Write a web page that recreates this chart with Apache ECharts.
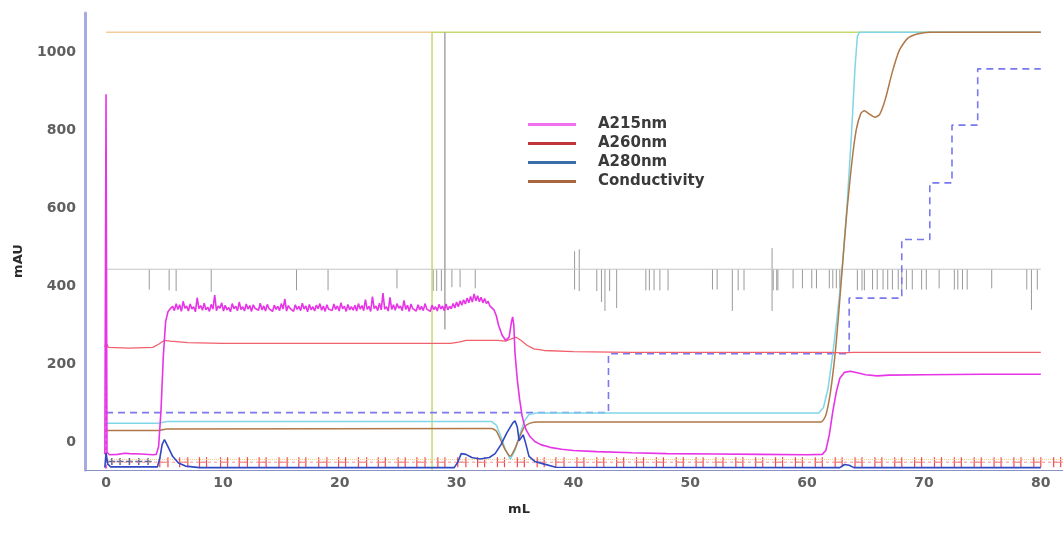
<!DOCTYPE html>
<html>
<head>
<meta charset="utf-8">
<title>Chromatogram</title>
<script src="https://cdn.jsdelivr.net/npm/echarts@6/dist/echarts.min.js"></script>
<style>
  html, body { margin: 0; padding: 0; background: #ffffff; }
  #chart { width: 1063px; height: 558px; }
</style>
</head>
<body>
<div id="chart"></div>
<script>
// Axis tick labels
const volumeTicks = [0, 10, 20, 30, 40, 50, 60, 70, 80];
const mauTicks = [0, 200, 400, 600, 800, 1000];

// Detector traces, [mL, mAU]
const a215 = [
  [-0.1,-30],[0,892],[0.08,-25],[0.3,-31],[1,-30],[1.6,-27],[2,-28],[3,-29],[4,-31],[4.3,-30],
  [4.5,-10],[4.7,80],[4.9,220],[5.1,310],[5.3,335],[5.5,343],
  [5.7,349],[5.85,338],[6.0,356],[6.15,341],[6.3,353],[6.45,336],[6.6,362],[6.75,344],[6.9,350],[7.05,337],
  [7.2,355],[7.35,342],[7.5,348],[7.65,335],[7.8,371],[7.95,343],[8.1,351],[8.25,339],[8.4,357],[8.55,340],
  [8.7,347],[8.85,336],[9.0,354],[9.15,342],[9.3,378],[9.45,338],[9.6,350],[9.75,344],[9.9,358],[10.05,337],
  [10.2,352],[10.35,340],[10.5,346],[10.65,335],[10.8,356],[10.95,343],[11.1,349],[11.25,338],[11.4,360],[11.55,341],
  [11.7,348],[11.85,337],[12.0,355],[12.15,342],[12.3,351],[12.45,336],[12.6,353],[12.75,344],[12.9,347],[13.05,339],
  [13.2,357],[13.35,340],[13.5,350],[13.65,337],[13.8,354],[13.95,343],[14.1,348],[14.25,336],[14.4,352],[14.55,341],
  [14.7,349],[14.85,338],[15.0,356],[15.15,342],[15.3,368],[15.45,337],[15.6,351],[15.75,344],[15.9,347],[16.05,336],
  [16.2,353],[16.35,341],[16.5,349],[16.65,338],[16.8,357],[16.95,342],[17.1,350],[17.25,335],[17.4,354],[17.55,340],
  [17.7,348],[17.85,337],[18.0,352],[18.15,343],[18.3,356],[18.45,339],[18.6,350],[18.75,336],[18.9,353],[19.05,342],
  [19.2,347],[19.35,338],[19.5,355],[19.65,341],[19.8,350],[19.95,337],[20.1,358],[20.25,343],[20.4,349],[20.55,336],
  [20.7,354],[20.85,340],[21.0,348],[21.15,339],[21.3,352],[21.45,337],[21.6,356],[21.75,342],[21.9,351],[22.05,338],
  [22.2,366],[22.35,341],[22.5,349],[22.65,336],[22.8,374],[22.95,343],[23.1,350],[23.25,338],[23.4,357],[23.55,340],
  [23.7,383],[23.85,342],[24.0,348],[24.15,337],[24.3,372],[24.45,341],[24.6,353],[24.75,339],[24.9,356],[25.05,344],
  [25.2,350],[25.35,338],[25.5,364],[25.65,341],[25.8,352],[25.95,336],[26.1,355],[26.25,343],[26.4,348],[26.55,337],
  [26.7,353],[26.85,340],[27.0,349],[27.15,338],[27.3,356],[27.45,342],[27.6,347],[27.75,336],[27.9,352],[28.05,341],
  [28.2,348],[28.35,337],[28.5,354],[28.65,342],[28.8,350],[28.95,338],[29.1,355],[29.25,340],[29.4,349],[29.55,343],
  [29.7,356],[29.85,345],[30.0,360],[30.15,348],[30.3,363],[30.45,352],[30.6,366],[30.75,355],[30.9,370],[31.05,358],
  [31.2,374],[31.35,360],[31.5,381],[31.65,363],[31.8,376],[31.95,361],[32.1,372],[32.25,358],[32.4,369],[32.55,356],
  [32.7,362],[32.85,350],[33.0,352],
  [33.2,340],[33.4,325],[33.6,300],[33.9,275],[34.2,262],[34.5,270],[34.7,310],
  [34.8,322],[34.9,300],[35.0,230],[35.2,160],[35.4,110],[35.6,70],[35.8,45],[36.0,30],[36.3,15],
  [36.7,3],[37.2,-5],[38,-12],[39,-17],[40,-20],[42,-23],[45,-26],[48,-28],[52,-29],[56,-30],
  [60,-31],[61.3,-30],[61.6,-20],[61.9,20],[62.2,80],[62.5,130],[62.8,165],[63.2,180],[63.7,183],
  [64.3,179],[65,174],[66,171],[67,173],[70,174],[75,175],[80,175]
];

const a260 = [
  [-0.1,245],[0,256],[0.2,244],[2,242],[4,244],[4.5,252],[5,262],[5.5,260],[7,256],[10,254],
  [15,254],[20,254],[25,254],[29.5,254],[30.3,258],[30.8,262],[32,262],[33.5,262],[34.2,260],
  [34.7,266],[35.1,270],[35.5,262],[36,250],[36.6,240],[37.5,236],[40,233],[45,231],[50,231],
  [55,231],[60,231],[62,231],[63,230],[64,231],[70,231],[80,231]
];

const a280 = [
  [-0.1,-64],[0,-26],[0.15,-55],[0.4,-62],[4.4,-62],[4.6,-40],[4.8,-5],[5.0,8],[5.3,-10],
  [5.7,-35],[6.2,-52],[6.8,-60],[8,-64],[29.8,-64],[30.1,-50],[30.4,-28],[30.8,-30],[31.3,-38],
  [32.0,-42],[32.8,-38],[33.3,-28],[33.8,-5],[34.3,25],[34.8,50],[35.0,56],[35.2,40],[35.35,5],
  [35.5,10],[35.7,20],[35.9,0],[36.2,-35],[36.7,-48],[37.5,-55],[38.5,-63],[62.8,-64],[63.2,-56],
  [63.6,-58],[64.0,-64],[80,-64]
];

const conductivity = [
  [0,31],[4.5,31],[5.2,35],[33,36],[33.4,30],[33.8,5],[34.2,-20],[34.6,-35],[35,-15],[35.4,15],
  [35.8,40],[36.3,50],[37,53],[61.2,53],[61.6,70],[62.0,130],[62.4,228],[62.7,330],[63.0,444],
  [63.4,590],[63.8,710],[64.2,800],[64.6,843],[64.9,850],[65.3,842],[65.8,833],[66.2,840],
  [66.7,880],[67.3,950],[67.9,1005],[68.6,1035],[69.5,1047],[70.5,1051],[80,1051]
];

const pressureTrace = [
  [0,50],[4.5,50],[5.2,54],[33,54],[33.4,45],[33.8,15],[34.2,-20],[34.6,-42],[35.0,-20],
  [35.4,20],[35.8,55],[36.2,72],[36.8,76],[61.0,76],[61.4,90],[61.8,140],[62.2,228],[62.6,330],
  [63.0,444],[63.4,600],[63.8,790],[64.1,960],[64.3,1040],[64.5,1051],[80,1051]
];

// Gradient steps (dashed)
const gradient = [
  [0,77],[43.0,77],[43.0,228],[63.6,228],[63.6,370],[68.1,370],[68.1,520],[70.5,520],
  [70.5,665],[72.4,665],[72.4,813],[74.6,813],[74.6,957],[80,957]
];

const loadLevel = [[0,1051],[27.9,1051]];
const injectionTrace = [[27.9,-70],[27.9,1051],[80,1051]];
const runMark = [[29.0,1051],[29.0,290]];
const sampleMark = [[0,-66],[0,520]];

// Log events: [mL, top, bottom]
const eventLevel = [[0,444],[80,444]];
const eventMarks = [
  [3.7,444,392],[5.4,444,390],[6.0,444,388],[9.0,444,386],[16.3,444,390],[19.0,444,390],
  [24.9,444,395],[28.0,444,388],[28.3,444,388],[28.7,444,388],[29.6,444,398],[30.3,444,398],
  [31.6,444,395],[40.1,490,392],[40.5,495,388],[42.0,444,388],[42.4,444,360],[42.7,444,337],
  [43.1,444,388],[43.7,444,345],[46.2,444,390],[46.5,444,390],[46.9,444,390],[47.4,444,390],
  [48.1,444,390],[51.9,444,392],[52.3,444,392],[53.6,444,337],[54.1,444,390],[54.6,444,390],
  [57.0,498,337],[57.1,444,390],[57.4,444,390],[57.5,444,390],[58.8,444,395],[59.6,444,395],
  [60.4,444,395],[60.8,444,395],[61.9,444,395],[62.2,444,395],[62.5,444,395],[62.8,444,395],
  [64.3,444,390],[64.7,444,390],[64.9,444,390],[65.6,444,392],[66.0,444,392],[66.5,444,392],
  [66.9,444,392],[67.3,444,392],[67.8,444,392],[68.1,444,392],[68.5,444,392],[69.0,444,392],
  [69.8,444,392],[70.2,444,392],[71.3,444,395],[72.6,444,392],[72.9,444,392],[73.3,444,392],
  [73.7,444,392],[75.8,444,395],[78.8,444,392],[79.2,444,340],[79.7,444,392]
];

// Fractions: [start mL, end mL]
const fractionLevel = -50;
const fractions = [
  [4.6,5.3],[6.3,7.0],[8.0,8.6],[9.8,10.4],[11.4,12.1],[13.1,13.7],[14.8,15.5],[16.5,17.1],
  [18.2,18.9],[19.9,20.5],[21.6,22.3],[23.3,23.9],[25.0,25.6],[26.6,27.3],[28.4,29.0],[30.1,30.8],
  [31.8,32.4],[33.5,34.1],[35.2,35.8],[36.9,37.5],[38.5,39.2],[40.3,40.9],[42.0,42.6],[43.7,44.3],
  [45.4,46.0],[47.1,47.7],[48.8,49.4],[50.5,51.1],[52.2,52.8],[53.9,54.5],[55.6,56.2],[57.3,57.9],
  [59.0,59.6],[60.7,61.3],[62.4,63.0],[64.1,64.7],[65.8,66.4],[67.5,68.1],[69.2,69.8],[70.9,71.5],
  [72.6,73.2],[74.3,74.9],[76.0,76.6],[77.7,78.3],[79.4,80.0],[81.1,81.7]
];
const earlyMarks = [[0.5,-48],[1.2,-48],[2.0,-48],[2.8,-48],[3.6,-48]];
const fractionLine = [[0,-50],[81.9,-50]];
const flowLine = [[0,-43],[81.9,-43]];

const FONT = 'DejaVu Sans';

const chart = echarts.init(document.getElementById('chart'), null, { renderer: 'canvas' });

function plainLine(name, data, color, width, extra) {
  return Object.assign({
    name: name,
    type: 'line',
    data: data,
    showSymbol: false,
    symbol: 'none',
    lineStyle: { color: color, width: width },
    itemStyle: { color: color },
    emphasis: { disabled: true },
    animation: false
  }, extra || {});
}

const tickLabelStyle = {
  color: '#606060',
  fontFamily: FONT,
  fontSize: 14,
  fontWeight: 'bold',
  formatter: function (v) { return String(v); }
};

const option = {
  animation: false,
  backgroundColor: '#ffffff',
  grid: { left: 85, right: 0, top: 13, bottom: 88, containLabel: false },
  xAxis: {
    type: 'value',
    min: -1.8,
    max: 81.9,
    axisLine: { show: true, onZero: false, lineStyle: { color: '#8c92c4', width: 1 } },
    axisTick: { show: false },
    splitLine: { show: false },
    axisLabel: Object.assign({ customValues: volumeTicks, margin: 6 }, tickLabelStyle)
  },
  yAxis: {
    type: 'value',
    min: -70,
    max: 1100,
    axisLine: { show: true, onZero: false, lineStyle: { color: '#a8abe0', width: 3 } },
    axisTick: { show: false },
    splitLine: { show: false },
    axisLabel: Object.assign({ customValues: mauTicks, margin: 9 }, tickLabelStyle)
  },
  legend: {
    orient: 'vertical',
    left: 528,
    top: 117,
    padding: 0,
    itemGap: 4,
    itemWidth: 48,
    itemHeight: 3,
    icon: 'rect',
    textStyle: { color: '#3a3a3a', fontFamily: FONT, fontSize: 15, fontWeight: 'bold', padding: [0, 0, 0, 17] },
    data: [
      { name: 'A215nm', itemStyle: { color: '#f070ee' } },
      { name: 'A260nm', itemStyle: { color: '#c0343a' } },
      { name: 'A280nm', itemStyle: { color: '#3a6ea8' } },
      { name: 'Conductivity', itemStyle: { color: '#a8673e' } }
    ]
  },
  graphic: [
    {
      type: 'text', x: 19, y: 261, rotation: Math.PI / 2,
      style: { text: 'mAU', fill: '#2a2a2a', font: 'bold 13px "DejaVu Sans"', align: 'center', verticalAlign: 'middle' }
    },
    {
      type: 'text', x: 519, y: 510,
      style: { text: 'mL', fill: '#2a2a2a', font: 'bold 13px "DejaVu Sans"', align: 'center', verticalAlign: 'middle' }
    }
  ],
  series: [
    plainLine('eventLevel', eventLevel, '#c4c4c4', 1),
    {
      name: 'events',
      type: 'custom',
      data: eventMarks,
      animation: false,
      renderItem: function (params, api) {
        const p1 = api.coord([api.value(0), api.value(1)]);
        const p2 = api.coord([api.value(0), api.value(2)]);
        return {
          type: 'line',
          shape: { x1: p1[0], y1: p1[1], x2: p2[0], y2: p2[1] },
          style: { stroke: '#9a9a9a', lineWidth: 1 }
        };
      }
    },
    plainLine('loadLevel', loadLevel, '#f3cc9c', 1.5),
    plainLine('injection', injectionTrace, '#c4da70', 1.5),
    plainLine('run', runMark, '#a6a6a6', 1.5),
    plainLine('flowLine', flowLine, '#f8c98a', 1, { lineStyle: { color: '#f8c98a', width: 1, type: 'dotted' } }),
    plainLine('fractionLine', fractionLine, '#f59090', 1, { lineStyle: { color: '#f59090', width: 1, type: [3, 3] } }),
    {
      name: 'fractions',
      type: 'custom',
      data: fractions.map(function (f) { return [f[0], f[1], fractionLevel]; }),
      animation: false,
      renderItem: function (params, api) {
        const a = api.coord([api.value(0), api.value(2)]);
        const b = api.coord([api.value(1), api.value(2)]);
        const st = { stroke: '#ee4a4a', lineWidth: 1.2 };
        return {
          type: 'group',
          children: [
            { type: 'line', shape: { x1: a[0], y1: a[1] - 5, x2: a[0], y2: a[1] + 5 }, style: st },
            { type: 'line', shape: { x1: b[0], y1: b[1] - 5, x2: b[0], y2: b[1] + 5 }, style: st },
            { type: 'line', shape: { x1: a[0], y1: a[1], x2: b[0], y2: b[1] }, style: { stroke: '#f07070', lineWidth: 1 } }
          ]
        };
      }
    },
    {
      name: 'earlyMarks',
      type: 'scatter',
      data: earlyMarks,
      symbol: 'path://M0,5L10,5M5,0L5,10',
      symbolSize: 7,
      itemStyle: { color: 'none', borderColor: '#30407a', borderWidth: 1.5 },
      animation: false
    },
    plainLine('gradient', gradient, '#7a78ee', 1.6, { lineStyle: { color: '#7a78ee', width: 1.6, type: [7, 5] } }),
    plainLine('sample', sampleMark, '#ff5ccf', 2, { lineStyle: { color: '#ff5ccf', width: 2, type: [4, 2] } }),
    plainLine('pressure', pressureTrace, '#7fd6e6', 1.5),
    plainLine('Conductivity', conductivity, '#b07848', 1.5, { smooth: 0.2 }),
    plainLine('A260nm', a260, '#f2606c', 1.3),
    plainLine('A215nm', a215, '#e634e6', 1.6),
    plainLine('A280nm', a280, '#3048c4', 1.6)
  ]
};

chart.setOption(option);
</script>
</body>
</html>
